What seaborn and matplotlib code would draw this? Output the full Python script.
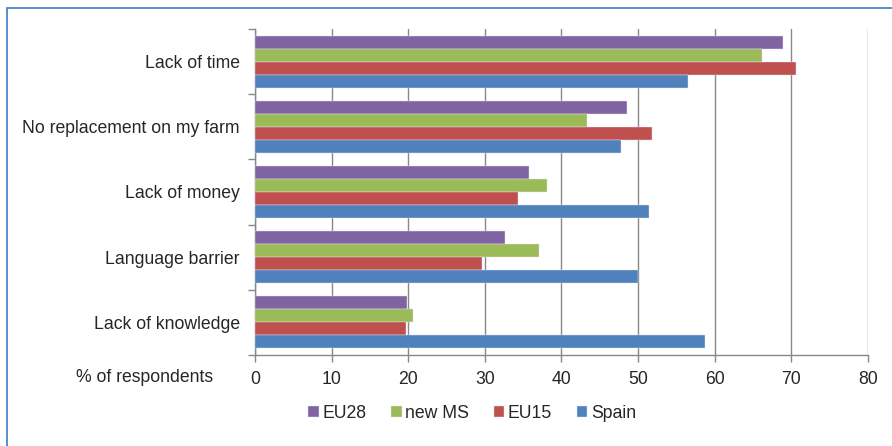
import pandas as pd
import matplotlib.pyplot as plt
import seaborn as sns
from matplotlib.patches import Rectangle

# values (% of respondents)
categories = ["Lack of time", "No replacement on my farm", "Lack of money",
              "Language barrier", "Lack of knowledge"]
groups = ["EU28", "new MS", "EU15", "Spain"]
eu28 = [68.9, 48.6, 35.8, 32.7, 19.9]
new_ms = [66.2, 43.4, 38.1, 37.1, 20.6]
eu15 = [70.7, 51.9, 34.4, 29.7, 19.7]
spain = [56.5, 47.8, 51.5, 50.0, 58.8]
colors = ["#8064A2", "#9BBB59", "#C0504D", "#4F81BD"]
x_ticks = [0, 10, 20, 30, 40, 50, 60, 70, 80]

df = pd.DataFrame({
    "Obstacle": categories * 4,
    "Group": [g for g in groups for _ in categories],
    "Value": eu28 + new_ms + eu15 + spain,
})

FS = 12.7

sns.set_style("white")
plt.rcParams["font.family"] = ["Liberation Sans", "DejaVu Sans"]

fig = plt.figure(figsize=(8.92, 4.46), dpi=100)
ax = fig.add_axes([255 / 892, 1 - 355 / 446, (867.7 - 255) / 892, (355 - 29) / 446])

sns.barplot(
    data=df, x="Value", y="Obstacle", hue="Group",
    order=categories, hue_order=groups, palette=colors, saturation=1,
    orient="h", width=0.8, gap=0, errorbar=None,
    edgecolor="#E4E4F0", linewidth=0.3, ax=ax, zorder=3,
)

ax.set_xlim(0, 80)
ax.set_ylim(4.5, -0.5)
ax.set_xticks(x_ticks)
ax.set_xlabel("")
ax.set_ylabel("")
ax.grid(axis="x", color="#888888", linewidth=1.0, zorder=0)
ax.grid(axis="y", visible=False)

for side in ["top", "right"]:
    ax.spines[side].set_visible(False)
for side in ["left", "bottom"]:
    ax.spines[side].set_color("#888888")
    ax.spines[side].set_linewidth(1.0)

# category labels at centres, tick marks at group boundaries
ax.set_yticks(range(len(categories)))
ax.set_yticklabels(categories)
ax.set_yticks([i - 0.5 for i in range(len(categories) + 1)], minor=True)
ax.tick_params(axis="y", which="major", length=0, pad=11, labelsize=FS)
ax.tick_params(axis="y", which="minor", left=True, length=5, width=1.0,
               color="#888888", direction="out")
ax.tick_params(axis="x", bottom=True, length=5, width=1.0, color="#888888",
               direction="out", pad=6.5, labelsize=FS)

fig.text(213 / 892, 1 - 378 / 446, "% of respondents", ha="right", va="center",
         fontsize=FS)

ax.get_legend().remove()
handles, labels = ax.get_legend_handles_labels()
fig.legend(handles, labels, loc="center", bbox_to_anchor=(472 / 892, 1 - 413 / 446),
           ncol=4, frameon=False, fontsize=FS, handlelength=0.6, handleheight=0.6,
           handletextpad=0.2, columnspacing=1.4)

# chart-area border like the original Excel chart
fig.patches.append(Rectangle((7 / 892, -0.1), 1.2, 1.1 - 8.5 / 446,
                             transform=fig.transFigure, fill=False,
                             edgecolor="#3B7CC4", linewidth=1.2))

fig.savefig("out.png", dpi=100)
